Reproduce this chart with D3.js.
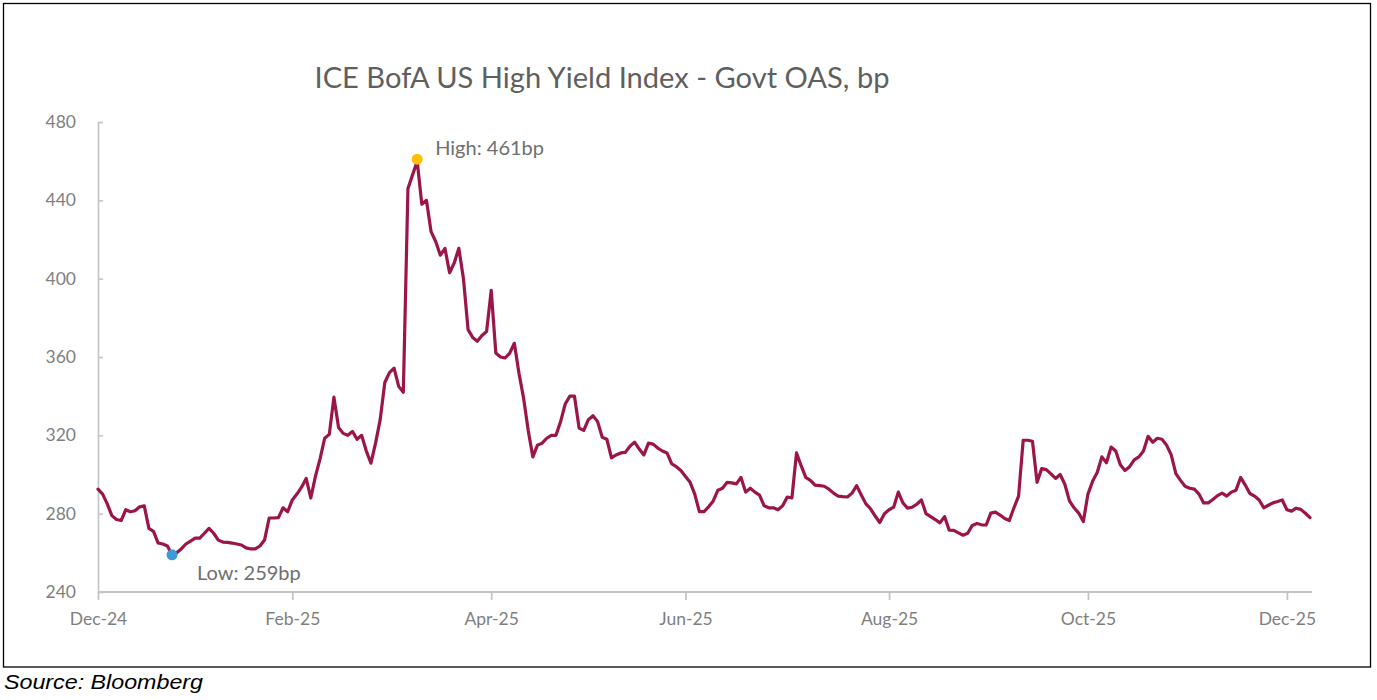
<!DOCTYPE html>
<html>
<head>
<meta charset="utf-8">
<script src="https://cdn.jsdelivr.net/npm/d3@7"></script>
<style>
  html, body { margin: 0; padding: 0; background: #fff; }
  svg { display: block; }
</style>
</head>
<body>
<svg id="chart" width="1377" height="700"></svg>
<script>
// ---- Data ----
const chartTitle = "ICE BofA US High Yield Index - Govt OAS, bp";
const sourceText = "Source: Bloomberg";

// daily OAS values (bp), trading days from early Dec-24 to early Dec-25
const oasValues = [
292.5,290,285,279,277,276.5,282,281,281.5,283.5,
284,272.5,271,265,264.5,263.5,259,260,262,264.5,
266,267.5,267.5,270,272.5,270,266.5,265.5,265.3,265,
264.5,264,262.5,262,262,263.5,266.5,277.8,277.8,278,
283,281,287,290,293.5,298,288,299,308,318.5,
320.5,339.5,324,321,320,322,318,320,312,305.8,
316,328,347,352,354.3,345,342,446,453,460,
438,440,424,419,412,415.5,403,408,415.5,400,
374,370,368,371,373,394,362,360,359.5,362,
367,351.7,339,322.5,309,315,316,318.5,320,320,
327,336,340,340,323.7,322.5,328,330,327,319,
318,308.5,310,311,311.3,314.5,316.5,313,310,316,
315.5,313.5,312,311,305.5,304,302,299,296,290,
281,281,283.5,286.5,292,293,296,295.7,295.2,298.5,
291,293,291,289.5,284,283,283,282,284,288.5,
288,311,304.5,298.5,297,294.6,294.3,294,292.5,290.5,
289,288.7,288.5,290.5,294.3,289.5,285,282.5,278.8,275.5,
280,282,283.3,291,285.5,282.8,283.3,284.8,287,280,
278.5,277,275.3,278.5,271.6,271.5,270.2,269,270,274,
275,274.3,274.2,280.3,280.8,279.3,277.5,276.5,283,289,
317.5,317.5,317,296,303,302.5,300.3,298,300,295,
286.5,283,280.3,276,290,296.5,301,309,306,314,
312,305,302,304,307.5,309,312,319.5,316.5,318.5,
318,315,310,300.5,297,294,293,292.5,290,285.5,
285.5,287.2,289.2,290.5,289,291,292,298.5,294.6,290.3,
289,287,283,284.3,285.5,286.2,287,282,281.3,282.8,
282.2,280.2,278
];

const xTickIndex  = [0, 42, 85, 127, 171, 214, 257];
const xTickLabels = ["Dec-24", "Feb-25", "Apr-25", "Jun-25", "Aug-25", "Oct-25", "Dec-25"];
const yTicks = [240, 280, 320, 360, 400, 440, 480];

const highPoint = { index: 69, value: 461, label: "High: 461bp" };
const lowPoint  = { index: 16, value: 259, label: "Low: 259bp" };

// ---- Drawing ----
const svg = d3.select("#chart");
const plot = { left: 98, right: 1310, top: 122, bottom: 592 };

const x = d3.scaleLinear().domain([0, oasValues.length - 1]).range([plot.left, plot.right]);
const y = d3.scaleLinear().domain([240, 480]).range([plot.bottom, plot.top]);

// frame
svg.append("rect")
  .attr("x", 3.5).attr("y", 3.5)
  .attr("width", 1367).attr("height", 663.5)
  .attr("fill", "#fff").attr("stroke", "#000").attr("stroke-width", 1.3);

// title
svg.append("text")
  .attr("x", 602).attr("y", 88)
  .attr("text-anchor", "middle")
  .attr("font-family", "Lato, 'Open Sans', sans-serif")
  .attr("font-size", 28)
  .attr("fill", "#5f5f5f")
  .attr("textLength", 575)
  .attr("lengthAdjust", "spacingAndGlyphs")
  .text(chartTitle);

const axisColor = "#c4c4c4";
const labelColor = "#7f7f7f";

// y axis
const yAxis = svg.append("g")
  .attr("transform", `translate(${plot.left},0)`)
  .call(d3.axisLeft(y).tickValues(yTicks).tickSizeInner(-5).tickSizeOuter(0).tickPadding(22));
yAxis.select(".domain").attr("stroke", axisColor).attr("stroke-width", 1.6);
yAxis.selectAll(".tick line").attr("stroke", axisColor).attr("stroke-width", 1.6);
yAxis.selectAll(".tick text")
  .attr("font-family", "Lato, sans-serif").attr("font-size", 17.5)
  .attr("fill", labelColor);

// x axis
const xAxis = svg.append("g")
  .attr("transform", `translate(0,${plot.bottom})`)
  .call(d3.axisBottom(x).tickValues(xTickIndex)
    .tickFormat((d, i) => xTickLabels[i])
    .tickSizeInner(8).tickSizeOuter(0).tickPadding(13));
xAxis.select(".domain").attr("stroke", axisColor).attr("stroke-width", 2.2)
  .attr("d", `M${plot.left},0H${plot.right + 2}`);
xAxis.selectAll(".tick line").attr("stroke", axisColor).attr("stroke-width", 1.8);
xAxis.selectAll(".tick text")
  .attr("font-family", "Lato, sans-serif").attr("font-size", 17.5)
  .attr("fill", labelColor);

// line
const line = d3.line()
  .x((d, i) => x(i))
  .y(d => y(d));
svg.append("path")
  .datum(oasValues)
  .attr("d", line)
  .attr("fill", "none")
  .attr("stroke", "#9b1549")
  .attr("stroke-width", 3.2)
  .attr("stroke-linejoin", "round")
  .attr("stroke-linecap", "round");

// markers
svg.append("circle")
  .attr("cx", x(highPoint.index)).attr("cy", y(highPoint.value))
  .attr("r", 5.5).attr("fill", "#ffc000");
svg.append("circle")
  .attr("cx", x(lowPoint.index)).attr("cy", y(lowPoint.value))
  .attr("r", 5.5).attr("fill", "#3d9ad8");

// annotations
svg.append("text")
  .attr("x", x(highPoint.index) + 18).attr("y", y(highPoint.value) - 4)
  .attr("font-family", "Lato, sans-serif").attr("font-size", 20)
  .attr("fill", "#6f6f6f")
  .text(highPoint.label);
svg.append("text")
  .attr("x", x(lowPoint.index) + 25).attr("y", y(lowPoint.value) + 25)
  .attr("font-family", "Lato, sans-serif").attr("font-size", 20)
  .attr("fill", "#6f6f6f")
  .text(lowPoint.label);

// source
svg.append("text")
  .attr("x", 4).attr("y", 689)
  .attr("font-family", "Arial, 'Liberation Sans', sans-serif")
  .attr("font-style", "italic")
  .attr("font-size", 21)
  .attr("fill", "#000")
  .attr("textLength", 199)
  .attr("lengthAdjust", "spacingAndGlyphs")
  .text(sourceText);
</script>
</body>
</html>
